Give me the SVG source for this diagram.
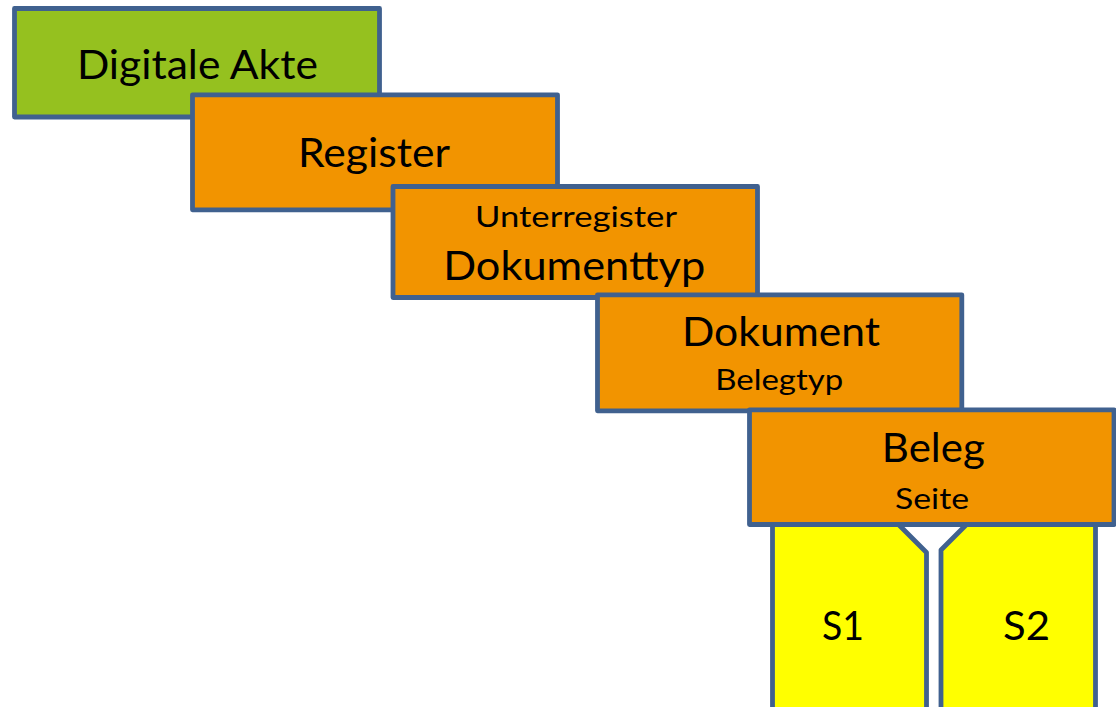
<svg xmlns="http://www.w3.org/2000/svg" width="1116" height="707" viewBox="0 0 1116 707">
  <style>
    .box { stroke: #40618f; stroke-width: 4.8; stroke-linejoin: round; }
    .green { fill: #95c11f; }
    .orange { fill: #f29400; }
    .yellow { fill: #ffff00; }
    text { font-family: Lato, "Open Sans", "Liberation Sans", sans-serif; fill: #000; text-anchor: middle; }
    .big { font-size: 41px; }
    .small { font-size: 29px; }
  </style>
  <rect width="1116" height="707" fill="#ffffff"/>

  <g id="digitale-akte">
    <rect class="box green" x="14.5" y="8.5" width="365" height="108.5"/>
    <text class="big" x="197.4" y="78.5" textLength="241" lengthAdjust="spacingAndGlyphs">Digitale Akte</text>
  </g>

  <g id="register">
    <rect class="box orange" x="192.5" y="94.8" width="365" height="115"/>
    <text class="big" x="374" y="166.7" textLength="152" lengthAdjust="spacingAndGlyphs">Register</text>
  </g>

  <g id="unterregister">
    <rect class="box orange" x="393" y="186.5" width="364.5" height="111"/>
    <text class="small" x="576" y="226.7" textLength="202" lengthAdjust="spacingAndGlyphs">Unterregister</text>
    <text class="big" x="574.2" y="280" textLength="262" lengthAdjust="spacingAndGlyphs">Dokumenttyp</text>
  </g>

  <g id="dokument">
    <rect class="box orange" x="597.5" y="294.8" width="364.3" height="116"/>
    <text class="big" x="781" y="346" textLength="198" lengthAdjust="spacingAndGlyphs">Dokument</text>
    <text class="small" x="779.2" y="389.5" textLength="128" lengthAdjust="spacingAndGlyphs">Belegtyp</text>
  </g>

  <!-- pages sit behind the Beleg box; their tops are covered by it -->
  <g id="seite-s1">
    <path class="box yellow" d="M772.5,712 V515 H889 L926.5,552.5 V712"/>
    <text class="big" x="843" y="640" textLength="42" lengthAdjust="spacingAndGlyphs">S1</text>
  </g>

  <g id="seite-s2">
    <path class="box yellow" d="M941,712 V550 L976,515 H1095.5 V712"/>
    <text class="big" x="1026.5" y="640" textLength="47" lengthAdjust="spacingAndGlyphs">S2</text>
  </g>

  <g id="beleg">
    <rect class="box orange" x="749.5" y="409.8" width="364.5" height="114.7"/>
    <text class="big" x="933.3" y="461.7" textLength="103" lengthAdjust="spacingAndGlyphs">Beleg</text>
    <text class="small" x="932" y="509" textLength="74" lengthAdjust="spacingAndGlyphs">Seite</text>
  </g>

  <g id="connectors"></g>
</svg>
